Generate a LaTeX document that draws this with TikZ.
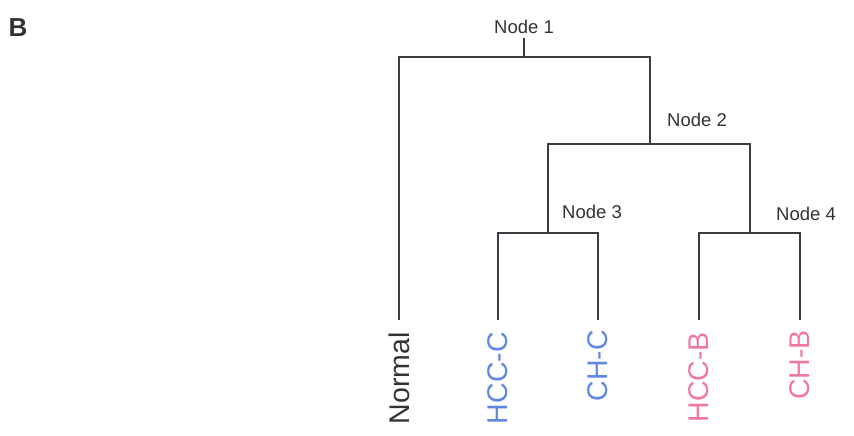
\documentclass[tikz,border=0pt]{standalone}
\usepackage{fontspec}
\setmainfont{Liberation Sans}
\definecolor{lineg}{RGB}{60,60,68}
\definecolor{blueL}{RGB}{95,135,225}
\definecolor{pinkL}{RGB}{240,120,160}
\definecolor{txtg}{RGB}{50,50,55}
\begin{document}
\begin{tikzpicture}[x=1pt,y=-1pt,
  br/.style={draw=lineg,line width=1.3pt},
  nlab/.style={font=\fontsize{18.5}{18.5}\selectfont,text=txtg,inner sep=0pt},
  leaf/.style={font=\fontsize{28.5}{28.5}\selectfont,rotate=90,anchor=east,inner sep=0pt},
  pt/.style={inner sep=0pt,minimum size=0pt}]
\useasboundingbox (0,0) rectangle (854,436);
\node[font=\bfseries\fontsize{26}{26}\selectfont,text=txtg,inner sep=0pt] (lblB) at (18,28) {B};
% node coordinates
\coordinate (n1) at (524,57);
\coordinate (n1t) at (524,38);
\coordinate (n2) at (650,144);
\coordinate (n3) at (548,233);
\coordinate (n4) at (750,233);
\coordinate (lN) at (399,320);
\coordinate (l1) at (498,320);
\coordinate (l2) at (598,320);
\coordinate (l3) at (699,320);
\coordinate (l4) at (800,320);
% labels
\node[nlab] (t1) at (524,27) {Node 1};
\node[nlab] (t2) at (697,120) {Node 2};
\node[nlab] (t3) at (592,212) {Node 3};
\node[nlab] (t4) at (806,214) {Node 4};
% branches
\draw[br] (n1t) -- (n1);
\draw[br] (lN) |- (n1) -| (n2);
\draw[br] (n3) |- (n2) -| (n4);
\draw[br] (l1) |- (n3) -| (l2);
\draw[br] (l3) |- (n4) -| (l4);
% leaf labels
\node[leaf,text=txtg] (tN) at (399,332) {Normal};
\node[leaf,text=blueL] (t5) at (498,332) {HCC-C};
\node[leaf,text=blueL] (t6) at (598,330) {CH-C};
\node[leaf,text=pinkL] (t7) at (699,332) {HCC-B};
\node[leaf,text=pinkL] (t8) at (800,330) {CH-B};
\end{tikzpicture}
\end{document}
